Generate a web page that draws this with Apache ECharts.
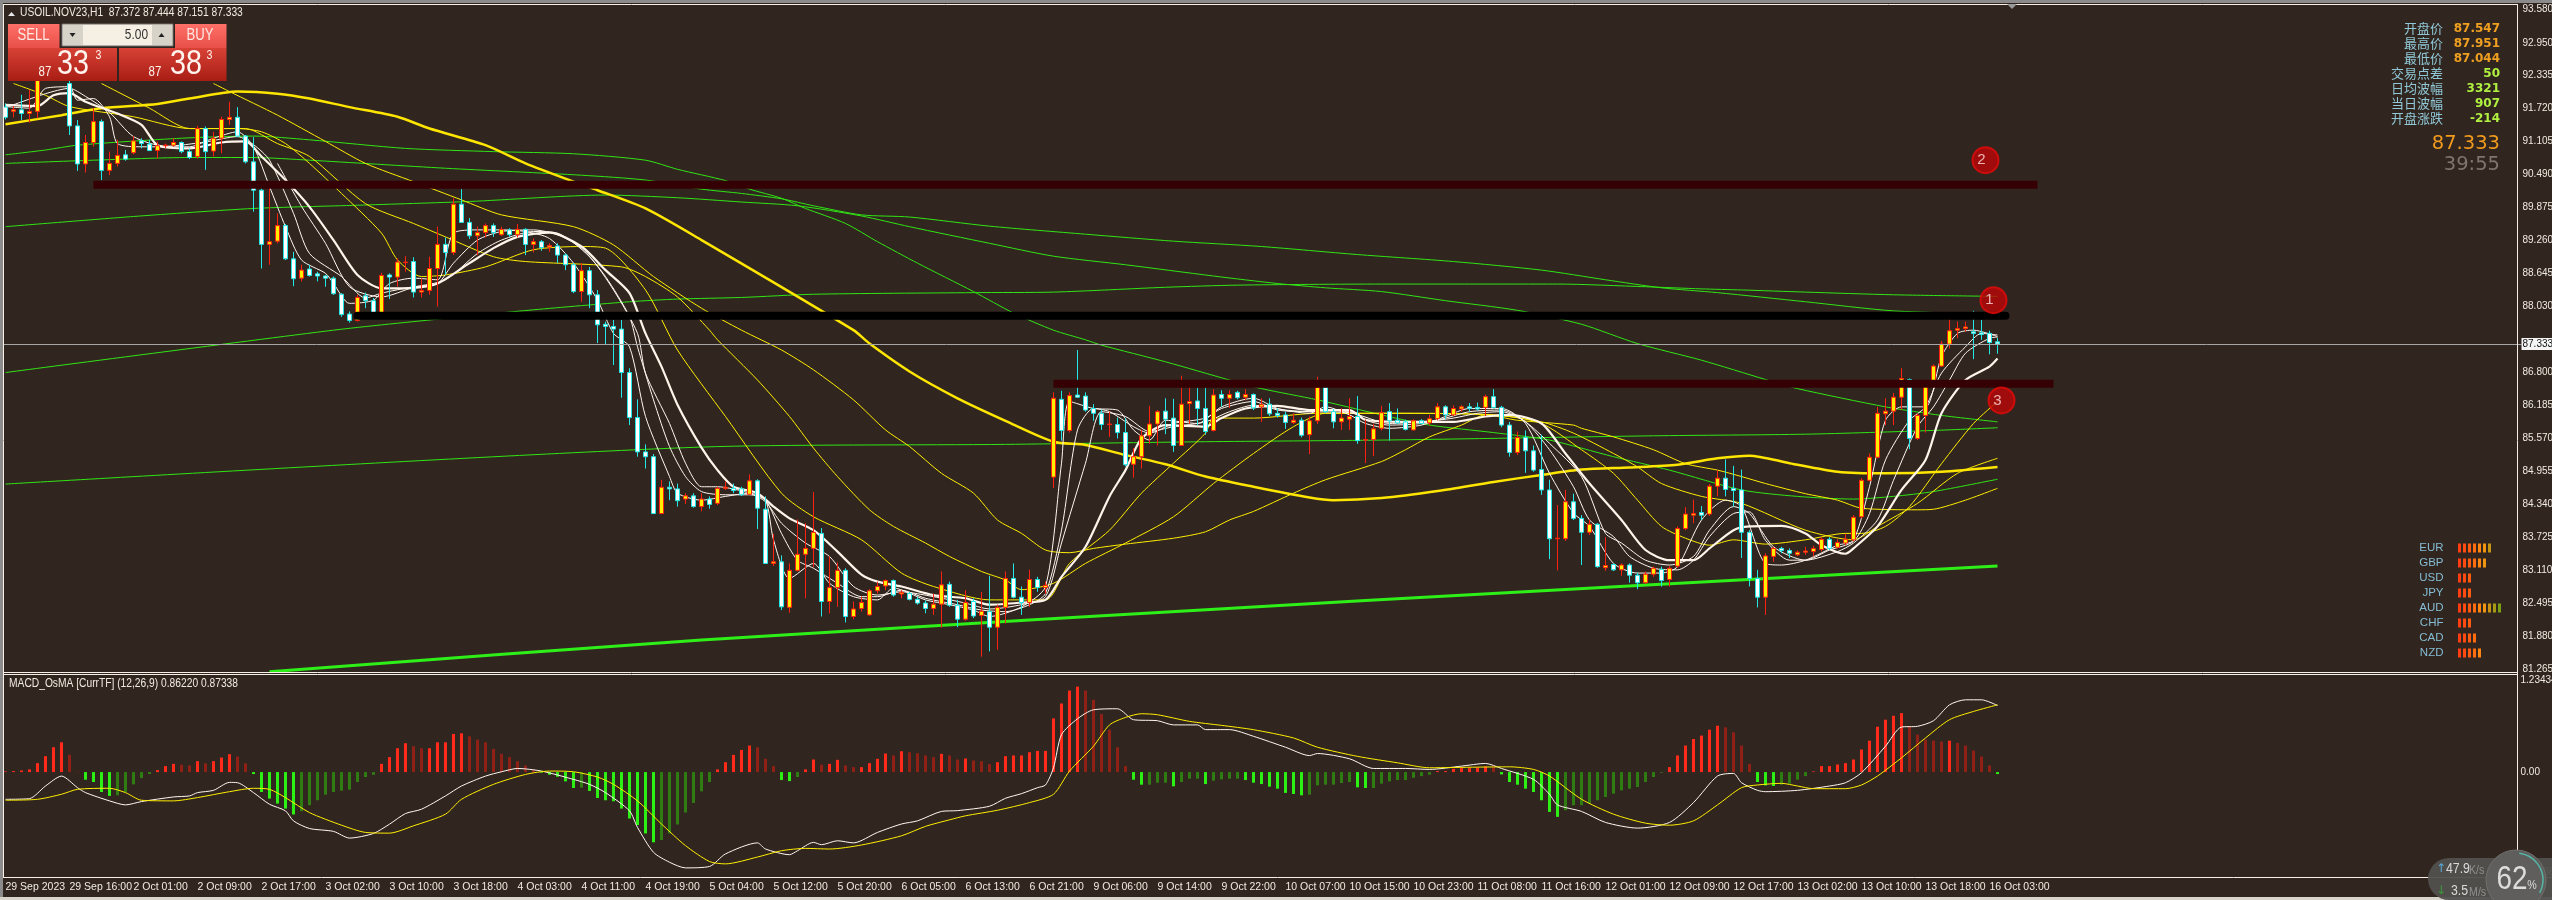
<!DOCTYPE html>
<html>
<head>
<meta charset="utf-8">
<title>USOIL.NOV23,H1</title>
<style>
html,body{margin:0;padding:0;background:#31261f;overflow:hidden}
#chart{width:2552px;height:900px}
</style>
<script src="https://cdn.jsdelivr.net/npm/echarts@6/dist/echarts.min.js"></script>
</head>
<body>
<div id="chart"></div>
<script>
// candles, one value per hourly bar
var opens = [91.75,91.67,91.70,91.63,91.67,92.30,92.50,92.42,92.19,91.40,90.69,91.09,91.48,90.57,90.70,90.86,90.90,91.12,91.06,90.94,91.03,91.04,91.09,90.92,90.83,91.35,90.93,91.17,91.52,91.56,91.21,90.73,90.20,89.19,89.25,89.54,88.92,88.56,88.73,88.64,88.60,88.56,88.26,87.89,87.77,88.23,88.14,87.90,88.62,88.58,88.85,88.87,88.30,88.33,88.74,89.19,89.04,89.94,89.60,89.35,89.41,89.54,89.37,89.46,89.37,89.47,89.19,89.24,89.14,89.16,88.99,88.81,88.31,88.70,88.25,87.70,87.66,87.61,86.80,85.96,85.32,85.23,84.17,84.66,84.63,84.44,84.50,84.30,84.44,84.36,84.64,84.64,84.63,84.53,84.78,84.25,83.24,83.27,82.42,83.11,83.41,83.52,83.80,82.53,82.79,83.11,82.25,82.40,82.28,82.73,82.82,82.92,82.67,82.68,82.57,82.50,82.40,82.48,82.85,82.46,82.20,82.53,82.27,82.34,82.05,82.42,82.96,82.61,82.51,82.94,82.79,84.85,86.30,85.72,86.38,86.36,86.13,86.04,85.83,85.83,85.68,85.09,85.23,85.62,85.84,86.08,85.95,85.44,86.22,86.27,86.13,85.72,86.39,86.32,86.43,86.34,86.39,86.16,86.21,86.04,86.01,85.87,85.91,85.64,85.90,86.52,86.07,85.88,85.93,85.98,85.54,85.55,85.76,86.07,85.91,85.88,85.73,85.90,85.86,85.94,86.16,86.01,86.12,86.16,86.15,86.15,86.35,86.15,85.82,85.31,85.59,85.34,84.99,84.61,83.70,83.70,84.39,84.08,83.82,83.97,83.16,83.22,83.12,83.21,83.02,82.88,83.04,83.13,82.94,83.19,83.89,84.14,84.19,84.16,84.68,84.83,84.64,84.61,83.82,82.96,82.61,83.37,83.52,83.48,83.40,83.45,83.46,83.50,83.69,83.54,83.62,83.68,84.11,84.79,85.22,86.03,86.08,86.34,86.67,85.57,86.00,86.59,86.92,87.33,87.59,87.62,87.56,87.54,87.53,87.372];
var closes = [91.56,91.70,91.63,91.67,92.30,92.50,92.42,92.30,91.40,90.69,91.09,91.48,90.57,90.70,90.85,90.78,91.12,91.07,90.94,91.03,91.04,91.09,90.92,90.81,91.35,90.92,91.17,91.52,91.56,91.21,90.73,90.20,89.19,89.24,89.54,88.92,88.55,88.71,88.61,88.60,88.56,88.27,87.88,87.77,88.20,88.14,87.90,88.61,88.58,88.86,88.86,88.30,88.33,88.74,89.19,89.04,89.94,89.60,89.35,89.41,89.54,89.41,89.47,89.37,89.47,89.19,89.24,89.13,89.17,88.99,88.81,88.31,88.70,88.25,87.69,87.66,87.61,86.80,85.96,85.32,85.23,84.17,84.66,84.63,84.41,84.50,84.30,84.44,84.34,84.64,84.66,84.60,84.52,84.78,84.27,83.24,83.27,82.43,83.11,83.41,83.52,83.82,82.53,82.79,83.11,82.25,82.39,82.51,82.73,82.81,82.92,82.65,82.70,82.57,82.50,82.40,82.48,82.84,82.46,82.20,82.51,82.26,82.35,82.05,82.42,82.96,82.61,82.51,82.94,82.79,82.83,86.32,85.72,86.37,86.34,86.10,86.04,85.83,85.84,85.68,85.08,85.23,85.62,85.84,86.07,85.93,85.44,86.21,86.26,86.13,85.70,86.38,86.32,86.39,86.33,86.39,86.14,86.20,86.03,86.00,85.87,85.91,85.63,85.90,86.52,86.07,85.88,85.95,85.98,85.53,85.55,85.75,86.05,85.90,85.86,85.74,85.90,85.85,85.94,86.16,86.01,86.13,86.16,86.13,86.12,86.35,86.15,85.82,85.31,85.59,85.34,84.98,84.61,83.70,83.71,84.39,84.08,83.82,83.97,83.18,83.20,83.12,83.21,83.02,82.88,83.04,83.15,82.92,83.15,83.89,84.16,84.17,84.14,84.68,84.83,84.62,84.60,83.82,82.96,82.61,83.38,83.52,83.48,83.43,83.45,83.47,83.52,83.69,83.52,83.63,83.69,84.10,84.79,85.22,86.04,86.08,86.34,86.69,85.57,86.00,86.59,86.92,87.33,87.58,87.62,87.65,87.53,87.51,87.36,87.333];
var lows = [91.52,91.56,91.51,91.46,91.54,92.27,92.30,92.27,91.23,90.56,90.53,91.01,90.39,90.48,90.64,90.75,90.87,90.98,90.94,90.79,90.98,91.01,90.89,90.78,90.79,90.58,90.83,90.89,91.42,91.19,90.70,89.80,88.74,88.81,89.21,88.90,88.41,88.50,88.59,88.50,88.40,88.25,87.84,87.73,87.75,88.00,87.83,87.87,88.17,88.40,88.68,88.20,88.20,88.25,88.03,88.62,88.99,89.60,89.29,88.99,89.32,89.33,89.35,89.33,89.32,88.99,89.04,89.07,89.05,88.84,88.71,88.28,88.12,88.00,87.35,87.33,86.94,86.33,85.82,85.23,85.01,84.16,84.16,84.42,84.30,84.35,84.28,84.21,84.26,84.33,84.61,84.55,84.50,84.52,83.88,83.23,83.19,82.37,82.32,83.09,82.59,83.17,82.25,82.31,82.43,82.14,82.20,82.34,82.26,82.68,82.74,82.62,82.59,82.55,82.47,82.31,82.28,82.04,82.43,82.05,82.17,82.22,81.50,81.60,81.63,82.12,82.59,82.28,82.43,82.71,82.67,84.65,85.53,85.68,86.33,86.07,85.90,85.73,85.60,85.57,85.05,84.84,85.01,85.47,85.44,85.65,85.32,85.44,85.84,85.82,85.64,85.70,86.16,86.14,86.30,86.28,86.10,85.88,85.99,85.96,85.75,85.84,85.59,85.28,85.84,86.04,85.76,85.73,85.73,85.47,85.11,85.24,85.72,85.53,85.84,85.72,85.72,85.83,85.82,85.91,85.93,85.99,86.07,86.07,86.09,85.99,86.13,85.78,85.23,85.26,84.93,84.95,84.52,83.32,83.11,83.66,84.05,83.21,83.77,83.16,83.10,83.10,83.01,82.88,82.76,82.86,82.99,82.81,82.81,83.16,83.86,83.99,84.05,84.13,84.49,84.49,84.30,83.34,82.81,82.42,82.28,83.27,83.43,83.34,83.38,83.40,83.37,83.46,83.49,83.52,83.58,83.65,84.08,84.77,85.20,85.82,85.82,86.11,85.37,85.54,85.68,86.52,86.91,87.25,87.44,87.56,87.05,87.41,87.14,87.151];
var highs = [91.82,91.77,91.98,92.07,92.45,92.60,92.70,92.50,92.35,91.51,91.23,91.73,91.52,90.92,91.14,90.95,91.21,91.17,91.14,91.11,91.07,91.17,91.11,90.98,91.40,91.39,91.29,91.57,91.85,91.75,91.23,91.19,90.27,90.34,89.77,89.57,89.05,88.81,88.81,88.68,88.62,88.59,88.28,87.94,88.25,88.29,88.19,88.66,88.65,88.93,88.97,88.95,88.56,88.96,89.52,89.32,90.05,90.22,89.68,89.52,89.58,89.58,89.52,89.49,89.57,89.49,89.30,89.27,89.21,89.21,89.02,88.84,88.84,88.77,88.34,87.75,87.78,87.78,86.88,86.30,85.46,85.28,84.80,84.77,84.73,84.55,84.55,84.55,84.49,84.67,84.77,84.73,84.67,84.90,84.81,84.49,83.79,83.39,83.24,84.06,83.99,84.57,83.90,83.37,83.26,83.15,82.53,82.62,82.76,82.90,82.94,82.94,82.74,82.71,82.62,82.55,82.68,83.09,82.90,82.56,82.74,82.59,82.71,83.01,82.47,83.09,83.24,82.81,83.12,82.99,82.90,86.43,86.46,86.43,87.22,86.43,86.21,86.11,86.07,85.96,85.95,85.39,85.73,86.18,86.10,86.32,86.31,86.74,86.60,86.51,86.51,86.49,86.47,86.47,86.46,86.49,86.41,86.32,86.32,86.13,86.07,86.04,85.96,85.98,86.72,86.57,86.12,86.13,86.32,86.36,85.92,85.85,86.18,86.23,86.13,85.92,85.93,85.93,86.01,86.23,86.19,86.19,86.19,86.23,86.24,86.39,86.49,86.18,85.88,85.70,85.72,85.44,85.64,84.80,84.33,84.61,84.54,84.14,84.06,83.99,83.73,83.24,83.24,83.24,83.07,83.09,83.18,83.18,83.19,83.93,84.29,84.43,84.31,84.72,84.98,85.18,85.06,84.99,83.86,83.12,83.43,83.55,83.55,83.52,83.48,83.55,83.57,83.73,83.73,83.69,83.79,84.14,84.83,85.29,86.16,86.32,86.42,86.88,86.69,86.04,86.63,86.95,87.39,87.81,87.75,87.75,87.95,87.78,87.58,87.444];

// moving averages as [bar, price]
var maWhiteThick = [[0,91.79],[4,91.77],[6,91.97],[8,92.01],[10,91.85],[14,91.63],[17,91.42],[19,91.04],[23,90.98],[27,91.09],[30,91.11],[32,90.83],[35,90.39],[38,89.89],[41,89.27],[44,88.62],[47,88.37],[51,88.38],[54,88.46],[58,88.84],[61,89.12],[64,89.33],[68,89.41],[72,89.15],[75,88.71],[78,88.28],[80,87.53],[82,86.91],[84,86.2],[87,85.4],[89,84.98],[91,84.67],[94,84.55],[96,84.30],[98,84.08],[101,83.86],[104,83.46],[107,83.03],[109,82.90],[112,82.81],[116,82.65],[120,82.59],[123,82.47],[127,82.51],[130,82.56],[132,82.99],[135,83.55],[138,84.49],[140,84.98],[142,85.57],[145,85.82],[150,85.79],[152,85.95],[155,86.13],[159,86.18],[163,86.10],[168,86.10],[170,85.92],[175,85.88],[181,85.88],[185,85.98],[188,86.01],[192,85.85],[195,85.29],[198,84.73],[202,84.05],[205,83.49],[208,83.30],[211,83.30],[213,83.52],[216,83.86],[218,83.93],[222,83.94],[225,83.80],[227,83.58],[230,83.42],[231,83.52],[234,83.93],[237,84.61],[240,85.17],[242,86.04],[245,86.66],[248,86.91],[249,87.06]];
var maWhiteA = [[0,91.76],[3,91.73],[5,92.10],[8,92.13],[9,91.88],[11,91.91],[13,91.57],[14,91.07],[17,91.01],[23,91.01],[26,91.17],[29,91.29],[31,91.01],[33,90.27],[35,89.52],[37,88.90],[40,88.65],[41,88.46],[43,88.09],[46,88.15],[48,88.46],[51,88.56],[54,88.53],[56,89.40],[59,89.46],[62,89.46],[65,89.43],[68,89.30],[71,88.84],[74,88.15],[76,87.53],[78,87.28],[80,85.98],[83,84.86],[84,84.55],[87,84.42],[90,84.49],[93,84.55],[95,84.42],[96,83.68],[98,82.96],[101,83.24],[103,82.87],[106,82.62],[109,82.56],[111,82.78],[115,82.56],[118,82.47],[121,82.37],[123,82.25],[127,82.43],[130,82.81],[132,85.11],[133,86.26],[136,86.13],[139,86.10],[141,85.73],[143,85.54],[145,85.91],[149,85.85],[152,86.16],[156,86.32],[159,86.13],[163,86.04],[165,86.16],[168,86.01],[170,85.85],[173,85.76],[177,85.82],[180,85.98],[183,86.13],[187,86.13],[190,85.85],[193,84.92],[196,84.18],[198,83.93],[201,83.24],[204,83.06],[207,83.06],[209,83.18],[212,84.05],[215,84.42],[217,84.30],[220,83.24],[222,83.21],[225,83.30],[229,83.58],[231,83.67],[233,84.67],[235,85.91],[237,86.16],[240,86.16],[242,87.10],[244,87.53],[246,87.59],[249,87.47]];
var maWhiteB = [[0,91.74],[5,92.0],[8,92.1],[10,91.95],[13,91.65],[16,91.2],[20,91.02],[25,91.1],[29,91.2],[31,91.05],[33,90.76],[36,89.77],[38,89.02],[42,88.59],[45,88.19],[47,88.28],[51,88.40],[54,88.46],[56,88.84],[59,89.27],[62,89.43],[66,89.46],[69,89.37],[72,89.12],[75,88.59],[78,87.84],[79,87.28],[81,86.29],[83,85.42],[85,84.86],[87,84.58],[90,84.52],[93,84.52],[95,84.42],[97,83.80],[99,83.30],[101,83.15],[104,82.87],[107,82.62],[109,82.62],[112,82.74],[115,82.59],[119,82.47],[122,82.37],[125,82.34],[128,82.47],[130,82.68],[132,83.86],[134,85.73],[136,86.13],[138,86.07],[141,85.79],[143,85.67],[146,85.85],[150,85.95],[152,86.13],[156,86.26],[159,86.10],[163,86.07],[165,86.10],[169,86.04],[170,85.91],[173,85.82],[177,85.85],[180,85.95],[183,86.07],[187,86.10],[190,85.88],[193,85.36],[196,84.67],[198,84.05],[201,83.74],[203,83.37],[206,83.15],[209,83.12],[211,83.30],[213,83.74],[216,84.17],[218,84.20],[220,83.67],[223,83.30],[225,83.30],[228,83.49],[231,83.65],[233,84.17],[235,85.17],[238,85.91],[240,86.16],[242,86.79],[245,87.28],[247,87.53],[249,87.50]];
var maWhiteC = [[34,90.70],[37,89.90],[40,89.21],[43,88.40],[47,88.21],[51,88.39],[55,88.53],[59,89.02],[62,89.27],[66,89.43],[69,89.40],[73,88.96],[76,88.34],[79,87.53],[80,86.79],[83,85.85],[85,85.11],[87,84.67],[89,84.67],[93,84.55],[95,84.39],[97,83.99],[100,83.62],[103,83.37],[106,82.81],[109,82.65],[112,82.71],[116,82.62],[120,82.50],[123,82.39],[127,82.47],[130,82.62],[132,83.62],[135,85.11],[137,86.07],[140,85.98],[143,85.70],[146,85.79],[150,85.88],[153,86.07],[156,86.19],[160,86.10],[163,86.07],[168,86.05],[173,85.85],[177,85.88],[181,85.95],[184,86.04],[187,86.07],[190,85.88],[193,85.48],[197,84.86],[200,83.80],[202,83.62],[205,83.30],[208,83.21],[211,83.37],[213,83.86],[216,84.30],[218,84.17],[221,83.55],[225,83.30],[229,83.46],[231,83.62],[234,84.05],[236,84.79],[239,85.79],[241,86.16],[243,86.66],[245,87.16],[248,87.44],[249,87.46]];
var maYellowThick = [[0,91.43],[7,91.60],[12,91.73],[19,91.81],[23,91.91],[29,92.04],[34,92.0],[38,91.91],[43,91.75],[49,91.57],[53,91.35],[60,91.04],[65,90.70],[71,90.36],[74,90.2],[80,89.86],[87,89.27],[106,87.59],[108,87.34],[113,86.82],[119,86.32],[125,85.90],[131,85.51],[135,85.45],[140,85.26],[145,85.09],[150,84.86],[156,84.67],[163,84.47],[166,84.42],[172,84.46],[179,84.59],[186,84.76],[192,84.89],[197,84.99],[203,85.03],[209,85.08],[214,85.20],[218,85.25],[223,85.11],[229,84.95],[235,84.92],[242,84.95],[249,85.04]];
var maYellowA = [[12,92.19],[18,91.73],[23,91.35],[29,91.35],[32,91.29],[35,91.07],[38,90.70],[42,90.14],[47,89.40],[49,88.90],[52,88.59],[55,88.62],[60,88.77],[66,89.09],[72,89.15],[75,89.12],[80,88.34],[84,87.22],[90,85.98],[97,84.55],[101,84.11],[107,83.68],[112,83.06],[116,82.81],[123,82.56],[130,82.56],[133,83.24],[138,83.86],[142,84.55],[146,85.11],[150,85.67],[151,85.95],[156,85.95],[164,86.04],[172,86.04],[186,86.01],[192,85.85],[197,85.36],[201,84.92],[204,84.42],[207,83.93],[210,83.71],[213,83.58],[216,83.68],[220,83.60],[225,83.68],[230,83.80],[232,83.80],[235,83.93],[238,84.30],[242,85.10],[246,85.85],[249,86.26]];
var maYellowB = [[1,92.19],[5,91.97],[8,91.76],[16,91.57],[23,91.35],[30,91.35],[34,91.07],[38,90.83],[45,89.95],[51,89.58],[55,89.33],[61,88.96],[65,88.87],[77,88.77],[80,88.59],[84,88.21],[88,87.59],[89,87.41],[94,86.66],[98,85.98],[101,85.39],[104,84.86],[108,84.24],[111,83.93],[115,83.62],[118,83.37],[122,83.09],[125,82.93],[127,82.75],[131,82.87],[135,83.24],[140,83.62],[146,84.11],[151,84.73],[156,85.29],[161,85.79],[165,86.04],[175,86.04],[186,86.01],[192,85.88],[196,85.67],[201,85.29],[204,85.04],[207,84.73],[212,84.49],[217,84.36],[225,83.86],[231,83.68],[234,83.93],[239,84.36],[244,84.92],[249,85.20]];
var maYellowC = [[26,92.19],[28,92.04],[34,91.60],[40,91.11],[45,90.70],[51,90.36],[57,90.02],[62,89.74],[71,89.52],[76,89.18],[81,88.59],[87,88.00],[92,87.59],[97,87.22],[101,86.85],[106,86.29],[110,85.73],[113,85.42],[117,84.92],[121,84.55],[124,84.05],[127,83.80],[130,83.49],[133,83.44],[136,83.52],[140,83.60],[146,83.71],[150,83.83],[153,84.05],[156,84.21],[161,84.55],[165,84.80],[172,85.14],[175,85.36],[178,85.60],[182,85.82],[185,86.01],[189,85.91],[196,85.82],[197,85.76],[201,85.60],[206,85.36],[210,85.10],[214,84.98],[217,84.86],[220,84.73],[225,84.54],[229,84.42],[232,84.27],[239,84.24],[241,84.25],[245,84.42],[249,84.64]];
var maGreenA = [[0,90.86],[5,90.95],[9,91.04],[22,91.17],[31,91.21],[38,91.14],[50,90.98],[61,90.92],[71,90.88],[80,90.76],[84,90.59],[90,90.38],[93,90.22],[97,90.05],[100,89.86],[105,89.58],[109,89.24],[114,88.84],[121,88.31],[126,87.91],[131,87.59],[135,87.41],[137,87.31],[145,87.0],[153,86.66],[157,86.50],[164,86.29],[172,86.01],[178,85.82],[186,85.68],[193,85.54],[201,85.23],[208,84.98],[217,84.61],[224,84.49],[231,84.44],[236,84.49],[241,84.58],[249,84.81]];
var maGreenB = [[0,90.70],[11,90.76],[23,90.81],[31,90.81],[38,90.76],[55,90.61],[72,90.48],[80,90.39],[87,90.22],[92,90.14],[97,90.04],[101,89.91],[107,89.74],[113,89.70],[123,89.53],[135,89.38],[146,89.25],[157,89.15],[169,89.0],[181,88.87],[192,88.71],[200,88.53],[207,88.38],[214,88.29],[225,88.12],[236,87.95],[249,87.89]];
var maGreenC = [[0,89.52],[16,89.71],[31,89.86],[44,89.92],[58,89.99],[75,90.11],[84,90.06],[92,89.98],[99,89.91],[107,89.72],[113,89.52],[123,89.21],[131,88.97],[140,88.81],[151,88.60],[159,88.46],[165,88.38],[172,88.31],[180,88.14],[189,87.96],[197,87.70],[204,87.34],[212,87.03],[220,86.67],[224,86.50],[235,86.16],[242,86.0],[249,85.88]];
var maGreenD = [[0,86.80],[41,87.59],[55,87.81],[66,87.97],[78,88.12],[84,88.17],[92,88.2],[101,88.26],[121,88.29],[131,88.30],[145,88.39],[154,88.43],[172,88.45],[194,88.45],[205,88.40],[212,88.36],[217,88.34],[225,88.30],[236,88.25],[249,88.22]];
var maGreenE = [[0,84.72],[87,85.41],[125,85.46],[150,85.51],[172,85.54],[206,85.62],[225,85.65],[241,85.72],[249,85.77]];
var trendGreen = [[33,81.22],[87,81.81],[170,82.55],[249,83.19]];

// drawn zones and their numbered badges
var zoneRedUpper = [[11,90.30],[254,90.30]];
var zoneRedLower = [[131,86.59],[256,86.59]];
var zoneBlack = [[44,87.86],[250,87.86]];
var badgePoints = [[249,88.15],[248,90.76],[250,86.28]];
var badgeLabels = ['1','2','3'];
var lastPrice = 87.333;

// MACD pane
var osma = [.008,.013,.021,.034,.114,.202,.316,.379,.219,.004,-.097,-.126,-.253,-.303,-.295,-.253,-.156,-.076,-.025,.025,.076,.105,.093,.084,.139,.11,.139,.185,.228,.198,.11,-.025,-.253,-.337,-.40,-.464,-.539,-.497,-.421,-.358,-.287,-.253,-.236,-.223,-.126,-.063,-.034,.105,.19,.303,.367,.329,.303,.303,.379,.379,.485,.493,.455,.413,.379,.295,.232,.19,.139,.084,.025,-.008,-.034,-.059,-.118,-.202,-.198,-.24,-.329,-.358,-.371,-.464,-.59,-.674,-.78,-.893,-.864,-.78,-.666,-.514,-.392,-.244,-.126,.034,.126,.219,.282,.337,.316,.169,.076,-.101,-.114,-.063,.034,.16,.093,.105,.156,.084,.063,.063,.114,.169,.236,.211,.265,.253,.24,.211,.19,.232,.211,.16,.173,.147,.139,.101,.126,.202,.211,.211,.253,.27,.27,.683,.872,1.037,1.087,1.037,.919,.737,.539,.316,.076,-.097,-.16,-.16,-.135,-.135,-.181,-.126,-.084,-.084,-.152,-.11,-.093,-.084,-.084,-.101,-.135,-.152,-.185,-.211,-.265,-.278,-.295,-.287,-.169,-.16,-.16,-.139,-.126,-.194,-.202,-.202,-.147,-.118,-.101,-.101,-.072,-.051,-.034,.013,.013,.042,.051,.051,.059,.072,.067,-.029,-.126,-.16,-.211,-.253,-.358,-.506,-.569,-.485,-.421,-.421,-.40,-.358,-.316,-.274,-.232,-.211,-.19,-.126,-.063,-.008,.063,.211,.337,.421,.464,.539,.59,.569,.506,.337,.105,-.126,-.169,-.177,-.16,-.147,-.097,-.051,.008,.076,.076,.097,.114,.16,.287,.40,.577,.666,.716,.75,.582,.476,.413,.40,.388,.40,.371,.337,.274,.198,.084,-.025];
var macdLine = [[0,-.346],[3,-.337],[5,-.177],[7,-.051],[9,-.198],[10,-.261],[13,-.366],[15,-.417],[17,-.375],[21,-.316],[23,-.303],[24,-.261],[26,-.232],[28,-.131],[29,-.135],[31,-.261],[33,-.409],[35,-.493],[36,-.621],[38,-.717],[41,-.754],[43,-.839],[46,-.780],[48,-.662],[50,-.527],[52,-.472],[55,-.303],[57,-.177],[60,-.051],[62,.004],[64,.046],[67,.013],[71,-.093],[73,-.156],[75,-.261],[78,-.493],[79,-.704],[81,-1.02],[83,-1.146],[85,-1.218],[88,-1.20],[90,-1.04],[94,-.90],[95,-.978],[98,-1.05],[99,-1.0],[101,-.894],[102,-.923],[104,-.873],[106,-.90],[109,-.767],[112,-.66],[114,-.62],[117,-.50],[119,-.49],[123,-.434],[125,-.333],[127,-.274],[129,-.198],[130,-.164],[131,.055],[132,.476],[134,.678],[136,.792],[139,.805],[141,.666],[144,.653],[146,.60],[149,.60],[150,.54],[153,.54],[156,.455],[160,.316],[163,.21],[164,.236],[168,.169],[171,.046],[175,.046],[178,.034],[182,.076],[185,.11],[187,.046],[191,-.093],[193,-.282],[194,-.417],[197,-.50],[200,-.64],[204,-.712],[208,-.64],[211,-.388],[214,-.05],[216,-.017],[217,-.135],[219,-.232],[220,-.249],[224,-.232],[228,-.177],[230,-.135],[232,-.008],[235,.329],[237,.573],[239,.582],[241,.653],[243,.855],[245,.919],[247,.919],[249,.847]];
var signalLine = [[0,-.358],[4,-.346],[7,-.282],[9,-.219],[13,-.206],[15,-.261],[17,-.358],[21,-.366],[24,-.324],[28,-.249],[31,-.206],[33,-.219],[35,-.325],[38,-.515],[42,-.675],[45,-.767],[48,-.776],[51,-.683],[55,-.535],[57,-.346],[61,-.156],[65,-.03],[68,.013],[71,.004],[74,-.063],[76,-.156],[79,-.366],[82,-.66],[85,-.935],[88,-1.137],[90,-1.167],[94,-1.08],[97,-1.0],[100,-.97],[103,-.978],[107,-.927],[112,-.81],[115,-.69],[118,-.607],[120,-.556],[124,-.485],[128,-.388],[131,-.282],[133,.013],[136,.329],[138,.60],[140,.695],[142,.742],[144,.729],[148,.645],[152,.594],[156,.539],[161,.434],[164,.316],[169,.20],[174,.118],[178,.055],[184,.063],[188,.067],[191,.034],[193,-.05],[197,-.345],[201,-.535],[205,-.649],[208,-.675],[211,-.62],[214,-.417],[217,-.198],[219,-.164],[222,-.143],[224,-.177],[226,-.211],[230,-.211],[232,-.164],[234,-.05],[237,.181],[240,.434],[243,.666],[246,.771],[249,.855]];

// axis labels
var timeLabels = ['29 Sep 2023','29 Sep 16:00','2 Oct 01:00','2 Oct 09:00','2 Oct 17:00','3 Oct 02:00','3 Oct 10:00','3 Oct 18:00','4 Oct 03:00','4 Oct 11:00','4 Oct 19:00','5 Oct 04:00','5 Oct 12:00','5 Oct 20:00','6 Oct 05:00','6 Oct 13:00','6 Oct 21:00','9 Oct 06:00','9 Oct 14:00','9 Oct 22:00','10 Oct 07:00','10 Oct 15:00','10 Oct 23:00','11 Oct 08:00','11 Oct 16:00','12 Oct 01:00','12 Oct 09:00','12 Oct 17:00','13 Oct 02:00','13 Oct 10:00','13 Oct 18:00','16 Oct 03:00'];
var priceTicks = [93.58,92.95,92.335,91.72,91.105,90.49,89.875,89.26,88.645,88.03,86.8,86.185,85.57,84.955,84.34,83.725,83.11,82.495,81.88,81.265];
var macdTicks = [-1.3338,0,1.23434];

// on-chart panels
var infoNames = ['开盘价','最高价','最低价','交易点差','日均波幅','当日波幅','开盘涨跌'];
var infoValues = ['87.547','87.951','87.044','50','3321','907','-214'];
var currencies = ['EUR','GBP','USD','JPY','AUD','CHF','CAD','NZD'];
var currencyStrength = [7,6,3,3,9,3,4,5];
var strengthColors = ['#ff3d10','#ff4a10','#ff5a10','#ff6c10','#ff8410','#f09410','#c49412','#a49a14','#7aa012'];

var BG = '#31261f', LINE = '#f7f0e6', AXIS_FONT = '"Liberation Sans",sans-serif';
var categories = [];
for (var i = 0; i < 315; i++) {
    categories.push(i % 8 === 0 && timeLabels[i / 8] ? timeLabels[i / 8] : '');
}

var candles = opens.map(function (o, i) {
    return [o, closes[i], lows[i], highs[i]];
});

function lineSeries(data, color, width, xi, z) {
    return {
        type: 'line',
        data: data,
        xAxisIndex: xi || 0,
        yAxisIndex: xi || 0,
        symbol: 'none',
        smooth: 0.25,
        silent: true,
        z: z || 2,
        lineStyle: { color: color, width: width }
    };
}

function zoneSeries(data, color, cap) {
    return {
        type: 'line',
        data: data,
        symbol: 'none',
        silent: true,
        z: 4,
        lineStyle: { color: color, width: 8, cap: cap || 'butt' }
    };
}

// no condensed font is installed, so the default face is squeezed horizontally
function txt(x, y, text, size, color, align, font, weight) {
    return {
        type: 'text',
        z: 100,
        x: x,
        y: y,
        scaleX: font ? 1 : 0.82,
        style: {
            text: text,
            fill: color,
            fontSize: size,
            fontFamily: font || AXIS_FONT,
            fontWeight: weight || 'normal',
            align: align || 'left',
            verticalAlign: 'middle'
        }
    };
}

function box(x, y, w, h, fill, r, stroke) {
    return {
        type: 'rect',
        z: 99,
        shape: { x: x, y: y, width: w, height: h, r: r || 0 },
        style: { fill: fill, stroke: stroke || null, lineWidth: stroke ? 1 : 0 }
    };
}

function hline(x1, y, x2, color) {
    return { type: 'line', z: 98, shape: { x1: x1, y1: y, x2: x2, y2: y }, style: { stroke: color || LINE, lineWidth: 1 } };
}

function vline(x, y1, y2, color) {
    return { type: 'line', z: 98, shape: { x1: x, y1: y1, x2: x, y2: y2 }, style: { stroke: color || LINE, lineWidth: 1 } };
}

function vgrad(a, b) {
    return new echarts.graphic.LinearGradient(0, 0, 0, 1, [{ offset: 0, color: a }, { offset: 1, color: b }]);
}

var graphics = [
    // window frame and pane borders
    box(0, 0, 2552, 3, '#8b8b8b'),
    box(0, 0, 3, 900, '#8b8b8b'),
    box(0, 897, 2552, 3, '#d8d4cc'),
    hline(3, 4.5, 2517),
    vline(3.5, 4, 877),
    hline(3, 672.5, 2517),
    hline(3, 674.5, 2517),
    hline(3, 877.5, 2552),
    vline(2517.5, 4, 877),
    { type: 'polygon', z: 98, shape: { points: [[2007, 4], [2017, 4], [2012, 9]] }, style: { fill: '#9a9a9a' } },
    // title lines
    { type: 'polygon', z: 100, shape: { points: [[8, 16], [15, 16], [11.5, 12]] }, style: { fill: '#e8e8e8' } },
    txt(20, 13, 'USOIL.NOV23,H1  87.372 87.444 87.151 87.333', 12.5, '#f0ebe2'),
    txt(9, 684, 'MACD_OsMA [CurrTF] (12,26,9) 0.86220 0.87338', 12.5, '#f0ebe2'),
    // one-click trade panel
    box(8, 24, 51.5, 24, vgrad('#ff7068', '#e85048')),
    box(175, 24, 51.5, 24, vgrad('#ff7068', '#e85048')),
    box(8, 48, 109, 33, vgrad('#d84236', '#a81d14')),
    box(119, 48, 107.5, 33, vgrad('#d84236', '#a81d14')),
    hline(12, 47.5, 56, '#f4a49c'),
    hline(178, 47.5, 223, '#f4a49c'),
    box(62, 24, 111, 22, '#f6efe3', 0, '#6a6a6a'),
    box(63, 25, 20, 20, '#d8d3c8'),
    box(152, 25, 20, 20, '#d8d3c8'),
    { type: 'polygon', z: 100, shape: { points: [[69.5, 33], [75.5, 33], [72.5, 37]] }, style: { fill: '#222' } },
    { type: 'polygon', z: 100, shape: { points: [[158.5, 37], [164.5, 37], [161.5, 33]] }, style: { fill: '#222' } },
    txt(148, 35, '5.00', 14.5, '#333', 'right'),
    txt(33.5, 36, 'SELL', 16, '#ffe8e2', 'center'),
    txt(200, 36, 'BUY', 16, '#ffe8e2', 'center'),
    txt(45, 72, '87', 14, '#fff4ee', 'center'),
    txt(73, 64.5, '33', 35, '#fff4ee', 'center'),
    txt(98.5, 55.5, '3', 13, '#fff4ee', 'center'),
    txt(155, 72, '87', 14, '#fff4ee', 'center'),
    txt(186, 64.5, '38', 35, '#fff4ee', 'center'),
    txt(209.5, 55.5, '3', 13, '#fff4ee', 'center'),
    // price summary
    txt(2500, 144, '87.333', 19.5, '#f09a1e', 'right', '"DejaVu Sans"'),
    txt(2500, 165, '39:55', 19.5, '#7d756e', 'right', '"DejaVu Sans"'),
    // resource monitor widget
    box(2428, 858, 124, 42, 'rgba(82,80,78,0.95)', [21, 0, 0, 21]),
    { type: 'circle', z: 99, shape: { cx: 2516, cy: 880, r: 30 }, style: { fill: '#605e5c', stroke: '#716f6d', lineWidth: 1 } },
    { type: 'arc', z: 100, shape: { cx: 2516, cy: 880, r: 27, startAngle: -1.45, endAngle: 0.5 }, style: { stroke: '#52b8a8', lineWidth: 1.5, fill: null } },
    { type: 'arc', z: 100, shape: { cx: 2516, cy: 880, r: 27, startAngle: 1.0, endAngle: 1.4 }, style: { stroke: '#d8c040', lineWidth: 1.5, fill: null } },
    txt(2512, 880, '62', 34, '#dcdcdc', 'center'),
    txt(2532, 885, '%', 13, '#dcdcdc', 'center'),
    txt(2441, 869, '\u2191', 12, '#58a8d8', 'center', '"DejaVu Sans"'),
    txt(2441, 891, '\u2193', 12, '#3a9a3a', 'center', '"DejaVu Sans"'),
    txt(2446, 869, '47.9', 15, '#dadada'),
    txt(2469, 870, 'K/s', 13, '#8e8e8e'),
    txt(2451, 891, '3.5', 15, '#dadada'),
    txt(2469, 892, 'M/s', 13, '#8e8e8e')
];

infoNames.forEach(function (name, i) {
    var y = 28.5 + i * 15;
    graphics.push(txt(2443, y, name, 13, '#90c8d8', 'right', '"Noto Sans CJK SC"'));
    graphics.push(txt(2500, y, infoValues[i], 12, i < 3 ? '#f0a020' : '#b0f040', 'right', '"DejaVu Sans"', 'bold'));
});

currencies.forEach(function (name, i) {
    var y = 547.5 + i * 15;
    graphics.push(txt(2443.5, y, name, 11.5, '#84bcd4', 'right', '"Liberation Sans"'));
    for (var k = 0; k < currencyStrength[i]; k++) {
        graphics.push(box(2458 + k * 5, y - 4, 3, 9, strengthColors[k]));
    }
});

var option = {
    backgroundColor: BG,
    animation: false,
    grid: [
        { left: 1.5, top: 4, width: 2520, height: 668, outerBoundsMode: 'none' },
        { left: 1.5, top: 675, width: 2520, height: 202, outerBoundsMode: 'none' }
    ],
    xAxis: [
        { type: 'category', gridIndex: 0, data: categories, show: false },
        {
            type: 'category',
            gridIndex: 1,
            data: categories,
            axisLine: { show: false },
            axisTick: { interval: 7, alignWithLabel: true, length: 3, lineStyle: { color: LINE } },
            axisLabel: {
                interval: 7,
                showMinLabel: true,
                color: '#f0ebe2',
                fontFamily: AXIS_FONT,
                fontSize: 10.5,
                align: 'left',
                margin: 5,
                hideOverlap: false
            }
        }
    ],
    yAxis: [
        {
            type: 'value',
            gridIndex: 0,
            position: 'right',
            offset: -4,
            min: 81.215,
            max: 93.673,
            splitLine: { show: false },
            axisLine: { show: false },
            axisTick: { customValues: priceTicks, length: 3, lineStyle: { color: LINE } },
            axisLabel: {
                customValues: priceTicks,
                color: '#f0ebe2',
                fontFamily: AXIS_FONT,
                fontSize: 10,
                margin: 5,
                formatter: function (v) {
                    return v.toFixed(3);
                }
            }
        },
        {
            type: 'value',
            gridIndex: 1,
            position: 'right',
            offset: -4,
            min: -1.3338,
            max: 1.23434,
            splitLine: { show: false },
            axisLine: { show: false },
            axisTick: { show: false },
            axisLabel: {
                customValues: macdTicks,
                color: '#f0ebe2',
                fontFamily: AXIS_FONT,
                fontSize: 10,
                margin: 3,
                verticalAlignMaxLabel: 'top',
                verticalAlignMinLabel: 'bottom',
                formatter: function (v) {
                    return v === 0 ? '0.00' : String(v);
                }
            }
        }
    ],
    graphic: { elements: graphics },
    series: [
        lineSeries(maGreenA, '#2fe514', 1),
        lineSeries(maGreenB, '#2fe514', 1),
        lineSeries(maGreenC, '#2fe514', 1),
        lineSeries(maGreenD, '#2fe514', 1),
        lineSeries(maGreenE, '#2fe514', 1),
        lineSeries(trendGreen, '#2eef18', 3),
        lineSeries(maYellowA, '#ffee00', 1),
        lineSeries(maYellowB, '#ffee00', 1),
        lineSeries(maYellowC, '#ffee00', 1),
        lineSeries(maYellowThick, '#ffe600', 2.5),
        lineSeries(maWhiteA, '#fff8f0', 1),
        lineSeries(maWhiteB, '#fff8f0', 1),
        lineSeries(maWhiteC, '#fff8f0', 1),
        lineSeries(maWhiteThick, '#fff4ea', 2.2),
        {
            type: 'candlestick',
            data: candles,
            barWidth: 5,
            z: 3,
            silent: true,
            itemStyle: {
                color: '#ffee00',
                color0: '#ffffff',
                borderColor: '#ff2010',
                borderColor0: '#20e8e8',
                borderWidth: 1
            },
            markLine: {
                silent: true,
                symbol: 'none',
                animation: false,
                lineStyle: { color: '#a6a6a6', width: 1, type: 'solid' },
                label: {
                    position: 'end',
                    distance: 0,
                    color: '#111',
                    backgroundColor: '#f4f4f4',
                    fontFamily: AXIS_FONT,
                    fontSize: 10,
                    padding: [1, 1, 1, 1],
                    formatter: function () {
                        return lastPrice.toFixed(3);
                    }
                },
                data: [{ yAxis: lastPrice }]
            }
        },
        zoneSeries(zoneRedUpper, '#350003'),
        zoneSeries(zoneRedLower, '#350003'),
        zoneSeries(zoneBlack, '#000000', 'round'),
        {
            type: 'scatter',
            data: badgePoints,
            symbolSize: 26,
            symbolOffset: [-4, 0],
            z: 5,
            silent: true,
            itemStyle: { color: '#bb0606', borderColor: '#e60a0a', borderWidth: 2 },
            label: {
                show: true,
                position: 'inside',
                offset: [-4, 0],
                color: '#ffdcdc',
                fontSize: 15,
                fontFamily: AXIS_FONT,
                formatter: function (p) {
                    return badgeLabels[p.dataIndex];
                }
            }
        },
        {
            type: 'bar',
            xAxisIndex: 1,
            yAxisIndex: 1,
            barWidth: 3,
            silent: true,
            z: 2,
            data: osma.map(function (v, i) {
                var rising = i === 0 || v >= osma[i - 1];
                var color;
                if (v >= 0) {
                    color = rising ? '#ff2a1a' : '#8e2016';
                } else {
                    color = rising ? '#2f7d12' : '#2cf014';
                }
                return { value: v, itemStyle: { color: color } };
            })
        },
        lineSeries(macdLine, '#fff8f0', 1, 1, 3),
        lineSeries(signalLine, '#ffee00', 1, 1, 3)
    ]
};

var chart = echarts.init(document.getElementById('chart'));
chart.setOption(option);
</script>
</body>
</html>
